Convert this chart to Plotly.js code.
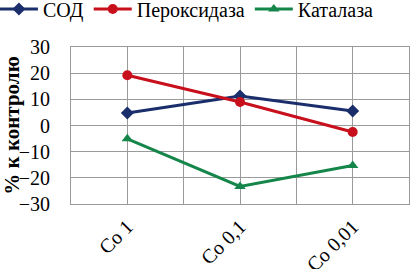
<!DOCTYPE html>
<html><head><meta charset="utf-8">
<script src="https://cdn.plot.ly/plotly-3.0.1.min.js"></script>
<style>html,body{margin:0;padding:0;background:#fff}#c{width:410px;height:269px}</style>
</head><body><div id="c"></div>
<script>
const categories = ['Co 1', 'Co 0,1', 'Co 0,01'];
const sod = [4.8, 11.3, 5.5];
const peroxidase = [19.2, 9.0, -2.5];
const catalase = [-5.1, -23.3, -15.3];
const seriesNames = ['СОД', 'Пероксидаза', 'Каталаза'];
const yTicks = [-30, -20, -10, 0, 10, 20, 30];

const idx = categories.map((c, i) => i);
// grid positions: each category plus the boundaries between them
const xGrid = [], xGridText = [];
categories.forEach((c, i) => { xGrid.push(i - 0.5); xGridText.push(''); xGrid.push(i); xGridText.push(c); });
xGrid.push(categories.length - 0.5); xGridText.push('');

const font = '"Liberation Serif", "Times New Roman", Times, serif';
function tr(name, y, color, symbol, size) {
  return {x: idx, y: y, name: name, type: 'scatter', mode: 'lines+markers',
    line: {color: color, width: 3}, marker: {color: color, symbol: symbol, size: size}};
}
const data = [
  tr(seriesNames[0], sod, '#1B2E6C', 'diamond', 10),
  tr(seriesNames[1], peroxidase, '#C8101C', 'circle', 10),
  tr(seriesNames[2], catalase, '#15864A', 'triangle-up', 10)
];
const layout = {
  width: 410, height: 269,
  margin: {l: 71, r: 1, t: 47, b: 65, autoexpand: false},
  paper_bgcolor: '#fff', plot_bgcolor: '#fff',
  font: {family: font, color: '#000', size: 19},
  showlegend: true,
  legend: {orientation: 'h', x: -0.225, xanchor: 'left', y: 1.242, yanchor: 'middle',
    font: {family: font, size: 20, color: '#000'}, itemwidth: 38, tracegroupgap: 0,
    bgcolor: 'rgba(0,0,0,0)'},
  xaxis: {
    range: [-0.5, categories.length - 0.5],
    tickmode: 'array', tickvals: xGrid, ticktext: xGridText,
    tickangle: -45, showgrid: true, gridcolor: '#9A9A9A', gridwidth: 1,
    showline: true, linecolor: '#9A9A9A', linewidth: 1, mirror: true,
    zeroline: false, ticks: '', ticklabelstandoff: 2,
    tickfont: {family: font, size: 20, color: '#000'},
    automargin: false, fixedrange: true
  },
  yaxis: {
    range: [-30, 30], tickmode: 'array', tickvals: yTicks,
    showgrid: true, gridcolor: '#9A9A9A', gridwidth: 1,
    showline: true, linecolor: '#9A9A9A', linewidth: 1, mirror: true,
    zeroline: false, ticks: '', ticklabelstandoff: 16,
    tickfont: {family: font, size: 20, color: '#000'},
    title: {text: '% к контролю', font: {family: font, size: 21, color: '#000', weight: 'bold'}, standoff: 2},
    automargin: false, fixedrange: true
  }
};
Plotly.newPlot('c', data, layout, {displayModeBar: false, staticPlot: true});
</script></body></html>
